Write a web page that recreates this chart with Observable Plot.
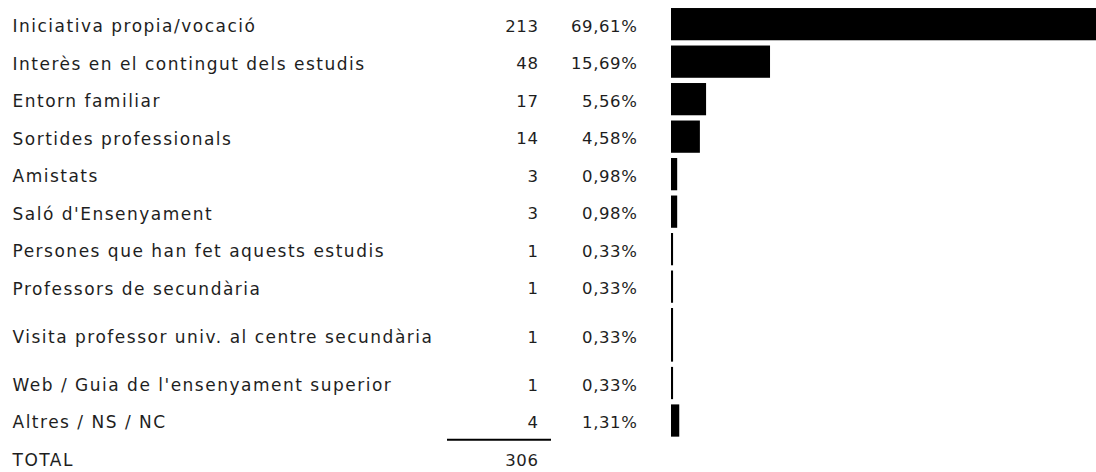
<!DOCTYPE html>
<html>
<head>
<meta charset="utf-8">
<script src="https://cdn.jsdelivr.net/npm/d3@7"></script>
<script src="https://cdn.jsdelivr.net/npm/@observablehq/plot@0.6"></script>
<style>
  html, body { margin: 0; padding: 0; background: #fff; overflow: hidden; }
  #chart svg { display: block; }
  .lbl text { letter-spacing: 1.5px; }
  .num text { letter-spacing: 0.6px; }
</style>
</head>
<body>
<div id="chart"></div>
<script>
// ---- data ----
const categories = [
  "Iniciativa propia/vocació",
  "Interès en el contingut dels estudis",
  "Entorn familiar",
  "Sortides professionals",
  "Amistats",
  "Saló d'Ensenyament",
  "Persones que han fet aquests estudis",
  "Professors de secundària",
  "Visita professor univ. al centre secundària",
  "Web / Guia de l'ensenyament superior",
  "Altres / NS / NC"
];
const counts = [213, 48, 17, 14, 3, 3, 1, 1, 1, 1, 4];
const percents = ["69,61%", "15,69%", "5,56%", "4,58%", "0,98%", "0,98%", "0,33%", "0,33%", "0,33%", "0,33%", "1,31%"];
// relative row heights (the "Visita..." row is taller in the original table)
const rowWeights = [1, 1, 1, 1, 1, 1, 1, 1, 1.57, 1, 1];
const totalLabel = "TOTAL";
const totalValue = 306;

// ---- derived table ----
let acc = 0;
const rows = categories.map((c, i) => {
  const r = {label: c, count: counts[i], pct: percents[i], start: acc, end: acc + rowWeights[i]};
  acc += rowWeights[i];
  return r;
});
const totalRow = {label: totalLabel, count: totalValue, start: acc, end: acc + 1};
const yMax = acc + 1;
const pad = 0.07;

const font = "'DejaVu Sans', sans-serif";
const ink = "#1e1e1e";
const mid = d => (d.start + d.end) / 2;

const chart = Plot.plot({
  width: 1096,
  height: 472,
  marginTop: 0, marginBottom: 0, marginLeft: 0, marginRight: 0,
  x: {domain: [0, 206], range: [671, 1096], axis: null},
  y: {domain: [0, yMax], range: [5.4, 5.4 + yMax * 37.5], axis: null},
  marks: [
    Plot.rect(rows, {x1: () => 0, x2: "count", y1: d => d.start + pad, y2: d => d.end - pad, fill: "black", clip: true}),
    Plot.text(rows, {y: mid, text: "label", frameAnchor: "left", dx: 12, dy: 2, textAnchor: "start",
      fontFamily: font, fontSize: 17, fill: ink, className: "lbl"}),
    Plot.text(rows, {y: mid, text: d => String(d.count), frameAnchor: "left", dx: 538, dy: 2, textAnchor: "end",
      fontFamily: font, fontSize: 16.5, fill: ink, className: "num"}),
    Plot.text(rows, {y: mid, text: "pct", frameAnchor: "left", dx: 637, dy: 2, textAnchor: "end",
      fontFamily: font, fontSize: 16.5, fill: ink, className: "num"}),
    Plot.ruleY([totalRow], {y: "start", insetLeft: 447, insetRight: 1096 - 551, stroke: "black", strokeWidth: 2}),
    Plot.text([totalRow], {y: mid, text: "label", frameAnchor: "left", dx: 12, dy: 2, textAnchor: "start",
      fontFamily: font, fontSize: 17, fill: ink, className: "lbl"}),
    Plot.text([totalRow], {y: mid, text: d => String(d.count), frameAnchor: "left", dx: 538, dy: 2, textAnchor: "end",
      fontFamily: font, fontSize: 16.5, fill: ink, className: "num"})
  ]
});
document.getElementById("chart").appendChild(chart);
</script>
</body>
</html>
